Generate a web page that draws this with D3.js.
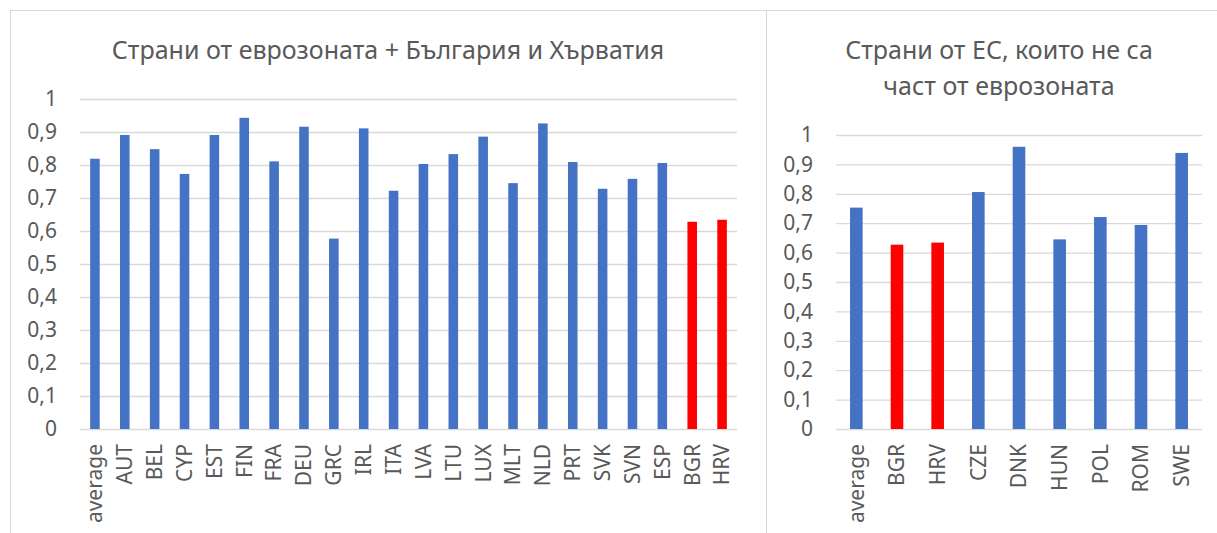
<!DOCTYPE html>
<html>
<head>
<meta charset="utf-8">
<script src="https://cdn.jsdelivr.net/npm/d3@7"></script>
<style>
  body { margin: 0; background: #fff; }
  svg text { font-family: "Noto Sans", "Open Sans", sans-serif; fill: #595959; }
</style>
</head>
<body>
<div id="chart"></div>
<script>
// eurozone + BGR/HRV
const euroCategories = ['average', 'AUT', 'BEL', 'CYP', 'EST', 'FIN', 'FRA', 'DEU', 'GRC', 'IRL', 'ITA',
  'LVA', 'LTU', 'LUX', 'MLT', 'NLD', 'PRT', 'SVK', 'SVN', 'ESP', 'BGR', 'HRV'];
const euroValues = [0.819, 0.891, 0.848, 0.773, 0.891, 0.943, 0.811, 0.916, 0.577, 0.911, 0.722,
  0.803, 0.833, 0.886, 0.745, 0.926, 0.809, 0.728, 0.758, 0.806, 0.628, 0.634];

// EU, not in eurozone
const nonEuroCategories = ['average', 'BGR', 'HRV', 'CZE', 'DNK', 'HUN', 'POL', 'ROM', 'SWE'];
const nonEuroValues = [0.753, 0.627, 0.634, 0.806, 0.960, 0.645, 0.721, 0.694, 0.939];

const highlighted = ['BGR', 'HRV'];
const yTicks = [0, 0.1, 0.2, 0.3, 0.4, 0.5, 0.6, 0.7, 0.8, 0.9, 1];

const width = 1217, height = 533;

let svg = d3.select('#chart').append('svg')
  .attr('width', width)
  .attr('height', height);

// panel frames
svg.append('rect')
  .attr('x', 10.5).attr('y', 10.5)
  .attr('width', 756).attr('height', 540)
  .attr('fill', 'none').attr('stroke', '#d9d9d9');
svg.append('rect')
  .attr('x', 766.5).attr('y', 10.5)
  .attr('width', 470).attr('height', 540)
  .attr('fill', 'none').attr('stroke', '#d9d9d9');

function drawPanel(opts) {
  let g = svg.append('g');

  let x = d3.scaleBand()
    .domain(opts.categories)
    .range([opts.x0, opts.x1])
    .paddingInner(opts.gap)
    .paddingOuter(opts.gap / 2);

  let y = d3.scaleLinear()
    .domain([0, 1])
    .range([opts.y0, opts.y1]);

  // gridlines + labels
  let yAxis = d3.axisLeft(y)
    .tickValues(yTicks)
    .tickSize(-(opts.x1 - opts.x0))
    .tickPadding(23)
    .tickFormat(d => d3.format('.1~f')(d).replace('.', ','));

  let ya = g.append('g')
    .attr('transform', `translate(${opts.x0},0)`)
    .call(yAxis);
  ya.select('.domain').remove();
  ya.selectAll('line').attr('stroke', '#d9d9d9').attr('stroke-width', 1.3);
  ya.selectAll('text').attr('font-size', 21).attr('fill', '#595959');

  g.selectAll('rect.bar')
    .data(opts.values)
    .enter().append('rect')
    .attr('class', 'bar')
    .attr('x', (d, i) => x(opts.categories[i]))
    .attr('y', d => y(d))
    .attr('width', x.bandwidth())
    .attr('height', d => y(0) - y(d))
    .attr('fill', (d, i) => highlighted.includes(opts.categories[i]) ? '#ff0000' : '#4472c4');

  // category labels, rotated
  let xAxis = d3.axisBottom(x).tickSize(0).tickPadding(0);
  let xa = g.append('g')
    .attr('transform', `translate(0,${opts.y0})`)
    .call(xAxis);
  xa.select('.domain').remove();
  xa.selectAll('text')
    .attr('font-size', 21)
    .attr('fill', '#595959')
    .attr('text-anchor', 'end')
    .attr('transform', 'rotate(-90)')
    .attr('x', -15)
    .attr('y', 0)
    .attr('dy', '0.35em');

  let t = g.append('text')
    .attr('x', opts.titleX)
    .attr('text-anchor', 'middle')
    .attr('font-size', 25);
  opts.title.forEach((line, i) => {
    t.append('tspan')
      .attr('x', opts.titleX)
      .attr('y', opts.titleY + i * 36)
      .text(line);
  });
}

drawPanel({
  categories: euroCategories,
  values: euroValues,
  x0: 80, x1: 737, y0: 429, y1: 99,
  gap: 0.68,
  title: ['Страни от еврозоната + България и Хърватия'],
  titleX: 388, titleY: 59
});

drawPanel({
  categories: nonEuroCategories,
  values: nonEuroValues,
  x0: 836, x1: 1202, y0: 429, y1: 135,
  gap: 0.69,
  title: ['Страни от ЕС, които не са', 'част от еврозоната'],
  titleX: 999, titleY: 59
});
</script>
</body>
</html>
